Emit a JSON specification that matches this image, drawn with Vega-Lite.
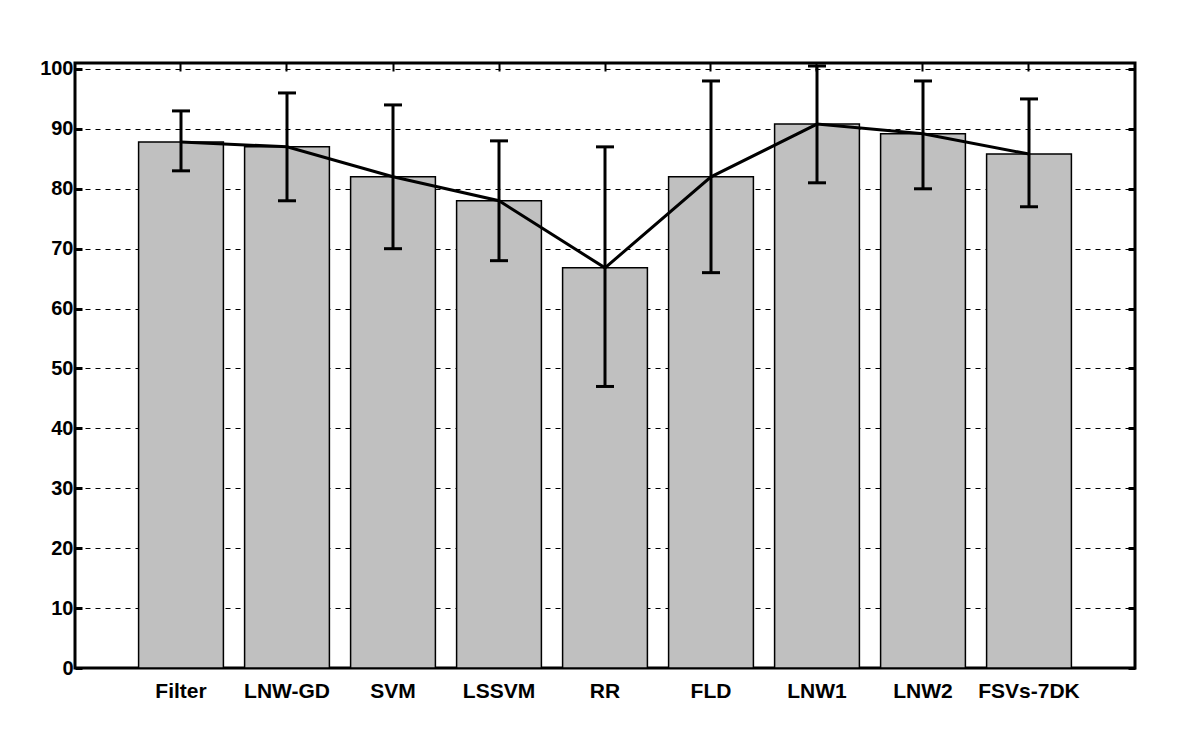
{
  "$schema": "https://vega.github.io/schema/vega-lite/v6.json",
  "autosize": {"type": "none"},
  "padding": {"left": 75, "top": 63, "right": 65, "bottom": 85},
  "width": 1060,
  "height": 605,
  "background": "white",
  "config": {
    "view": {"stroke": "black", "strokeWidth": 3},
    "font": "Liberation Sans"
  },
  "data": {
    "values": [
      {"method": "Filter", "value": 87.8, "lower": 83, "upper": 93},
      {"method": "LNW-GD", "value": 87, "lower": 78, "upper": 96},
      {"method": "SVM", "value": 82, "lower": 70, "upper": 94},
      {"method": "LSSVM", "value": 78, "lower": 68, "upper": 88},
      {"method": "RR", "value": 66.8, "lower": 47, "upper": 87},
      {"method": "FLD", "value": 82, "lower": 66, "upper": 98},
      {"method": "LNW1", "value": 90.8, "lower": 81, "upper": 100.5},
      {"method": "LNW2", "value": 89.2, "lower": 80, "upper": 98},
      {"method": "FSVs-7DK", "value": 85.8, "lower": 77, "upper": 95}
    ]
  },
  "resolve": {"axis": {"x": "independent", "y": "independent"}},
  "layer": [
    {
      "mark": {"type": "bar", "fill": "#c0c0c0", "stroke": "black", "strokeWidth": 1.5},
      "encoding": {
        "x": {
          "field": "method", "type": "nominal", "sort": null,
          "scale": {"paddingInner": 0.2, "paddingOuter": 0.6},
          "axis": {"orient": "bottom", "title": null, "labelAngle": 0, "ticks": false, "domain": false,
                   "labelFont": "Liberation Sans", "labelFontWeight": "bold", "labelFontSize": 21,
                   "labelColor": "black", "labelPadding": 12}
        },
        "y": {
          "field": "value", "type": "quantitative",
          "scale": {"domain": [0, 101], "nice": false, "zero": true},
          "axis": {"orient": "left", "title": null, "values": [0,10,20,30,40,50,60,70,80,90,100],
                   "grid": true, "gridDash": [5, 5], "gridColor": "black", "gridOpacity": 1, "gridWidth": 1.2,
                   "domain": false, "tickSize": -7, "tickWidth": 3, "tickColor": "black",
                   "labelFont": "Liberation Sans", "labelFontWeight": "bold", "labelFontSize": 20,
                   "labelColor": "black", "labelPadding": 9}
        }
      }
    },
    {
      "mark": {"type": "rule", "stroke": "black", "strokeWidth": 3},
      "encoding": {
        "x": {"field": "method", "type": "nominal", "sort": null,
              "axis": {"orient": "top", "title": null, "labels": false, "domain": false,
                       "tickSize": -8, "tickWidth": 2, "tickColor": "black", "grid": false}},
        "y": {"field": "lower", "type": "quantitative",
              "axis": {"orient": "right", "title": null, "labels": false, "domain": false, "grid": false,
                       "values": [0,10,20,30,40,50,60,70,80,90,100],
                       "tickSize": -7, "tickWidth": 3, "tickColor": "black"}},
        "y2": {"field": "upper"}
      }
    },
    {
      "mark": {"type": "tick", "color": "black", "size": 18, "thickness": 3, "opacity": 1},
      "encoding": {
        "x": {"field": "method", "type": "nominal", "sort": null, "axis": null},
        "y": {"field": "upper", "type": "quantitative", "axis": null}
      }
    },
    {
      "mark": {"type": "tick", "color": "black", "size": 18, "thickness": 3, "opacity": 1},
      "encoding": {
        "x": {"field": "method", "type": "nominal", "sort": null, "axis": null},
        "y": {"field": "lower", "type": "quantitative", "axis": null}
      }
    },
    {
      "mark": {"type": "line", "stroke": "black", "strokeWidth": 3},
      "encoding": {
        "x": {"field": "method", "type": "nominal", "sort": null, "axis": null},
        "y": {"field": "value", "type": "quantitative", "axis": null}
      }
    }
  ]
}
